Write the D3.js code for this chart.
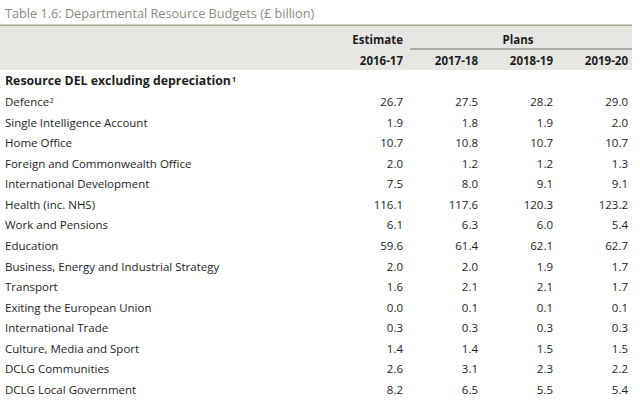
<!DOCTYPE html>
<html><head><meta charset="utf-8">
<script src="https://cdn.jsdelivr.net/npm/d3@7"></script>
<style>
html,body{margin:0;padding:0;background:#fff;}
svg text{font-family:"Open Sans","Noto Sans",sans-serif;}
</style></head>
<body><svg id="c" width="640" height="400"></svg>
<script>
const title = "Table 1.6: Departmental Resource Budgets (£ billion)";
const sectionLabel = "Resource DEL excluding depreciation";
const years = ["2016-17", "2017-18", "2018-19", "2019-20"];
const departments = [
  "Defence", "Single Intelligence Account", "Home Office", "Foreign and Commonwealth Office",
  "International Development", "Health (inc. NHS)", "Work and Pensions", "Education",
  "Business, Energy and Industrial Strategy", "Transport", "Exiting the European Union",
  "International Trade", "Culture, Media and Sport", "DCLG Communities", "DCLG Local Government"
];
const footnoteMarks = {"Defence": "2"};
const v2016 = [26.7, 1.9, 10.7, 2.0, 7.5, 116.1, 6.1, 59.6, 2.0, 1.6, 0.0, 0.3, 1.4, 2.6, 8.2];
const v2017 = [27.5, 1.8, 10.8, 1.2, 8.0, 117.6, 6.3, 61.4, 2.0, 2.1, 0.1, 0.3, 1.4, 3.1, 6.5];
const v2018 = [28.2, 1.9, 10.7, 1.2, 9.1, 120.3, 6.0, 62.1, 1.9, 2.1, 0.1, 0.3, 1.5, 2.3, 5.5];
const v2019 = [29.0, 2.0, 10.7, 1.3, 9.1, 123.2, 5.4, 62.7, 1.7, 1.7, 0.1, 0.3, 1.5, 2.2, 5.4];
const series = [v2016, v2017, v2018, v2019];

const svg = d3.select("#c");

const x = d3.scalePoint().domain(years).range([403, 628]);
const y = d3.scalePoint().domain(departments).range([102, 390]);
const fmt = d3.format(".1f");
const ink = "#1e1e1e";

// title
svg.append("text").attr("x", 5).attr("y", 14).attr("dy", "0.35em")
  .attr("font-size", 12.7).attr("fill", "#868d7c").text(title);
svg.append("rect").attr("x", 0).attr("y", 24.5).attr("width", 632).attr("height", 1.5).attr("fill", "#a3ab8a");
// header band
svg.append("rect").attr("x", 0).attr("y", 26).attr("width", 632).attr("height", 44).attr("fill", "#e6e7e3");
svg.append("text").attr("x", x(years[0])).attr("y", 40).attr("dy", "0.35em").attr("text-anchor", "end")
  .attr("font-size", 11.5).attr("font-weight", "bold").attr("fill", ink).text("Estimate");
svg.append("text").attr("x", 518).attr("y", 40).attr("dy", "0.35em").attr("text-anchor", "middle")
  .attr("font-size", 11.5).attr("font-weight", "bold").attr("fill", ink).text("Plans");
svg.append("rect").attr("x", 410).attr("y", 48.5).attr("width", 222).attr("height", 1).attr("fill", "#6f7560");
svg.selectAll("text.year").data(years).join("text").attr("class", "year")
  .attr("x", d => x(d)).attr("y", 61).attr("dy", "0.35em").attr("text-anchor", "end")
  .attr("font-size", 11.5).attr("font-weight", "bold").attr("fill", ink).text(d => d);

// section heading
const sec = svg.append("text").attr("x", 5).attr("y", 81).attr("dy", "0.35em")
  .attr("font-size", 12.3).attr("font-weight", "bold").attr("fill", ink);
sec.append("tspan").text(sectionLabel);
sec.append("tspan").attr("font-size", 7).attr("dy", "-0.5em").attr("dx", 1).text("1");

// row labels
const lbl = svg.selectAll("text.lbl").data(departments).join("text").attr("class", "lbl")
  .attr("x", 5).attr("y", d => y(d)).attr("dy", "0.35em")
  .attr("font-size", 11.5).attr("fill", ink);
lbl.append("tspan").text(d => d);
lbl.filter(d => footnoteMarks[d]).append("tspan").attr("font-size", 7).attr("dy", "-0.5em").attr("dx", 0.5)
  .text(d => footnoteMarks[d]);

// values
series.forEach((vals, i) => {
  svg.selectAll("text.v" + i).data(vals).join("text").attr("class", "v" + i)
    .attr("x", x(years[i])).attr("y", (d, j) => y(departments[j])).attr("dy", "0.35em")
    .attr("text-anchor", "end").attr("font-size", 11.5).attr("fill", ink).text(d => fmt(d));
});
</script></body></html>
